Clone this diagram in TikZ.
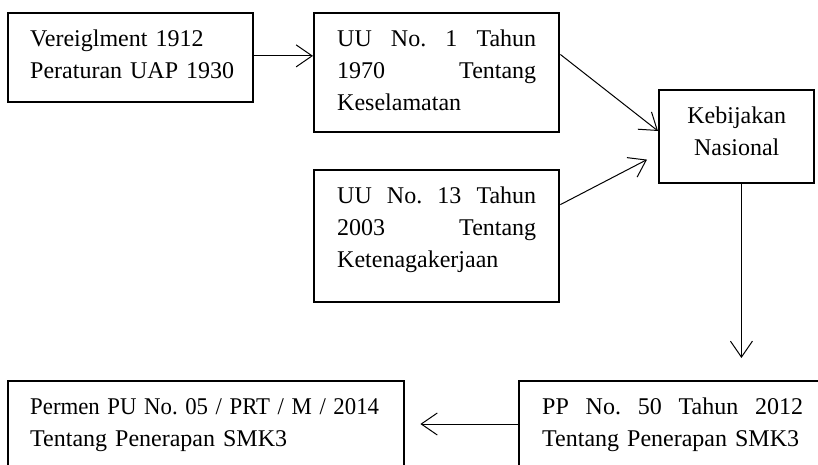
\documentclass[tikz,border=0pt]{standalone}
\usepackage{fontspec}
\setmainfont{Liberation Serif}
\usetikzlibrary{arrows.meta,calc}

\begin{document}
\begin{tikzpicture}[x=0.5pt, y=-0.5pt, >={Straight Barb[length=8pt,width=11pt]},
  kotak/.style={draw, line width=1.2pt, anchor=north west, inner xsep=11.5pt,
    inner ysep=0pt, align=left, text height=16.5pt,
    font=\fontsize{12}{16}\selectfont\frenchspacing},
  panah/.style={->, line width=0.5pt}]

  % --- 1. bidang gambar ---
  \useasboundingbox (0,0) rectangle (818,465);
  \clip (0,0) rectangle (818,465);

  % --- 2. kotak-kotak peraturan ---
  \node[kotak, inner xsep=11pt, text width=100.5pt, text depth=28pt] (uap) at (7,12)
    {\mbox{Vereiglment 1912}\\\mbox{Peraturan UAP 1930}};
  \node[kotak, text width=99.5pt, text depth=43pt] (uu1) at (313,12)
    {UU\hfill No.\hfill 1\hfill Tahun\\1970\hfill Tentang\\Keselamatan};
  \node[kotak, text width=99.5pt, text depth=49.5pt] (uu13) at (313,169)
    {UU\hfill No.\hfill 13\hfill Tahun\\2003\hfill Tentang\\Ketenagakerjaan};
  \node[kotak, align=center, inner xsep=5pt, text width=67.5pt, text depth=30pt] (kebijakan) at (658,89)
    {Kebijakan\\Nasional};

  % kotak bawah (terpotong di tepi gambar)
  \node[kotak, inner xsep=11pt, text width=176pt, text depth=45pt] (permen) at (7,380)
    {\scalebox{0.95}[1]{Permen PU No. 05 / PRT / M / 2014}\\\mbox{Tentang Penerapan SMK3}};
  \node[kotak, text width=130.5pt, text depth=45pt] (pp) at (518,380)
    {PP\hfill No.\hfill 50\hfill Tahun\hfill 2012\\Tentang Penerapan SMK3};

  % --- 3. panah ---
  \coordinate (a1) at ($(uap.north east)!0.48!(uap.south east)$);
  \draw[panah] (a1) -- (a1 -| uu1.west);

  \draw[panah] ($(uu1.north east)!0.35!(uu1.south east)$)
    -- ($(kebijakan.north west)!0.44!(kebijakan.south west)$);

  \coordinate (k2) at ($(kebijakan.north west)!0.74!(kebijakan.south west)+(-11,0)$);
  \draw[panah] ($(uu13.north east)!0.265!(uu13.south east)$) -- (k2);

  % Kebijakan -> PP
  \coordinate (k3) at ($(kebijakan.south west)!0.53!(kebijakan.south east)$);
  \coordinate (k4) at ($(k3 |- pp.north)+(0,-22)$);
  \draw[panah] (k3) -- (k4);

  % PP -> Permen
  \coordinate (p1) at ($(pp.north west)+(0,44)$);
  \draw[panah] (p1) -- ($(p1 -| permen.east)+(15,0)$);

\end{tikzpicture}
\end{document}
